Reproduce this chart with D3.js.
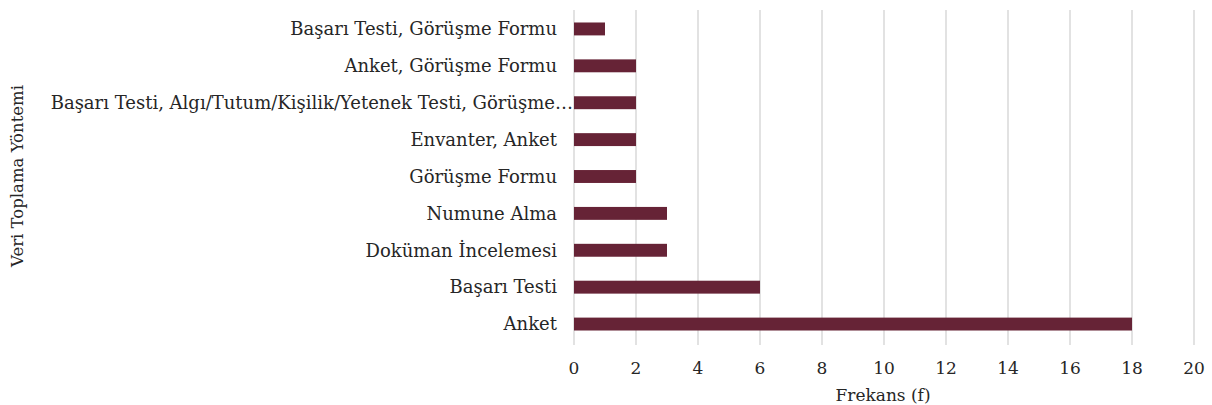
<!DOCTYPE html>
<html lang="tr">
<head>
<meta charset="UTF-8" />
<title>Veri Toplama Yöntemi</title>
<script src="https://d3js.org/d3.v7.min.js"></script>
<style>
  body { margin: 0; background: #fff; }
</style>
</head>
<body>
<div id="chart"></div>
<script>
// categories top to bottom, and frequency for each
const categories = [
  "Başarı Testi, Görüşme Formu",
  "Anket, Görüşme Formu",
  "Başarı Testi, Algı/Tutum/Kişilik/Yetenek Testi, Görüşme Formu",
  "Envanter, Anket",
  "Görüşme Formu",
  "Numune Alma",
  "Doküman İncelemesi",
  "Başarı Testi",
  "Anket"
];
const values = [1, 2, 2, 2, 2, 3, 3, 6, 18];
const xTicks = [0, 2, 4, 6, 8, 10, 12, 14, 16, 18, 20];

const width = 1212, height = 405;
const font = "'DejaVu Serif', serif";
const svg = d3.select("#chart").append("svg")
  .attr("width", width)
  .attr("height", height)
  .attr("font-family", font);

const x = d3.scaleLinear().domain([0, 20]).range([574, 1194]);
const y = d3.scaleBand().domain(categories).range([10.5, 342.5]).paddingInner(0.65).paddingOuter(0.325);

// gridlines
svg.selectAll("line.grid")
  .data(xTicks)
  .enter().append("line")
  .attr("x1", d => x(d)).attr("x2", d => x(d))
  .attr("y1", 10).attr("y2", 345)
  .attr("stroke", "#d9d9d9")
  .attr("stroke-width", 1.5);

// bars
svg.selectAll("rect.bar")
  .data(values)
  .enter().append("rect")
  .attr("x", x(0))
  .attr("y", (d, i) => y(categories[i]))
  .attr("width", d => x(d) - x(0))
  .attr("height", y.bandwidth())
  .attr("fill", "#662336");

// category labels (truncate long ones like Excel does)
const maxLabel = 536;
svg.selectAll("text.cat")
  .data(categories)
  .enter().append("text")
  .attr("x", 557)
  .attr("y", d => y(d) + y.bandwidth() / 2)
  .attr("dy", "0.35em")
  .attr("text-anchor", "end")
  .attr("fill", "#262626")
  .style("font-size", "18px")
  .text(d => d)
  .each(function(d) {
    const t = d3.select(this);
    if (this.getComputedTextLength() > maxLabel) {
      let s = d;
      while (s.length > 0) {
        s = s.slice(0, -1);
        t.text(s.trimEnd() + "…");
        if (this.getComputedTextLength() <= maxLabel) break;
      }
      t.attr("x", 573);
    }
  });

// x tick labels
svg.selectAll("text.tick")
  .data(xTicks)
  .enter().append("text")
  .attr("x", d => x(d))
  .attr("y", 368)
  .attr("dy", "0.35em")
  .attr("text-anchor", "middle")
  .attr("fill", "#262626")
  .style("font-size", "17px")
  .text(d => d);

// axis titles
svg.append("text")
  .attr("x", 883).attr("y", 395)
  .attr("dy", "0.35em")
  .attr("text-anchor", "middle")
  .attr("fill", "#262626")
  .style("font-size", "17px")
  .text("Frekans (f)");

svg.append("text")
  .attr("transform", "translate(17,176) rotate(-90)")
  .attr("dy", "0.35em")
  .attr("text-anchor", "middle")
  .attr("fill", "#262626")
  .style("font-size", "16.5px")
  .text("Veri Toplama Yöntemi");
</script>
</body>
</html>
